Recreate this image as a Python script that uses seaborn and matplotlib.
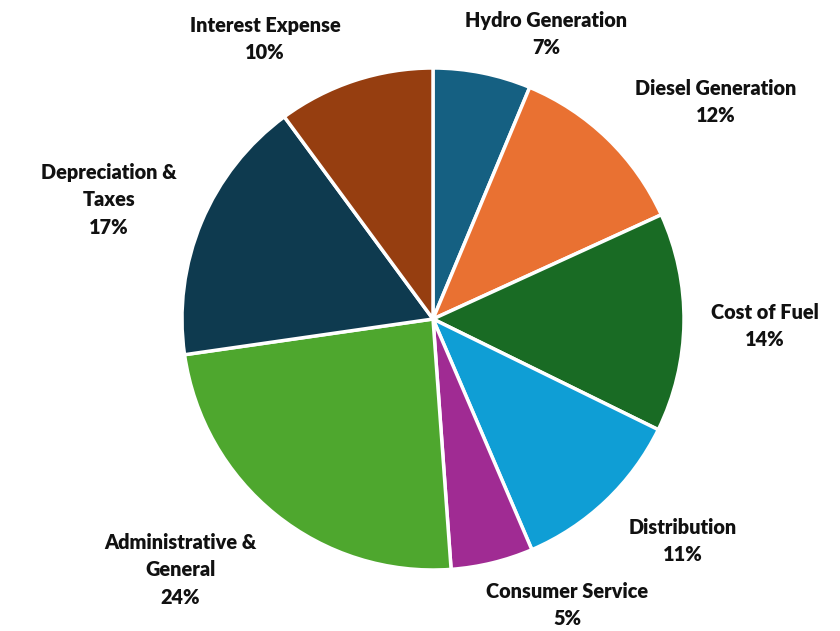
import matplotlib
matplotlib.use("Agg")
import matplotlib.pyplot as plt
import seaborn as sns

categories = ["Hydro Generation", "Diesel Generation", "Cost of Fuel", "Distribution",
              "Consumer Service", "Administrative &\nGeneral", "Depreciation &\nTaxes",
              "Interest Expense"]
values = [6.3, 11.9, 14.1, 11.3, 5.3, 23.9, 17.2, 10.1]
pct_labels = ["7%", "12%", "14%", "11%", "5%", "24%", "17%", "10%"]
colors = ["#156082", "#E97132", "#196B24", "#0F9ED5", "#A02B93", "#4EA72E", "#0E3A4F", "#963E10"]

# label anchor positions (pixels, top-left origin)
label_pos = [(546, 34), (716, 102), (765, 326), (683, 541), (567, 605),
             (180, 570), (109, 200), (265, 39)]

sns.set_theme(style="white")
plt.rcParams['font.family'] = ['Lato', 'DejaVu Sans']

W, H = 840, 631
fig = plt.figure(figsize=(8.4, 6.31), dpi=100)
ax = fig.add_axes([0, 0, 1, 1])

palette = sns.color_palette(colors)
ax.pie(values, colors=palette, startangle=90, counterclock=False,
       center=(433, H - 319), radius=251, frame=True,
       wedgeprops=dict(edgecolor="white", linewidth=2.5))
ax.set_xlim(0, W)
ax.set_ylim(0, H)
ax.set_aspect('equal')
ax.axis('off')

for cat, pct, (x, y) in zip(categories, pct_labels, label_pos):
    ax.text(x, H - y, f"{cat}\n{pct}", ha="center", va="center",
            fontsize=14.3, fontweight="heavy", color="#111111", linespacing=1.55)

fig.savefig("out.png", dpi=100, facecolor="white")
